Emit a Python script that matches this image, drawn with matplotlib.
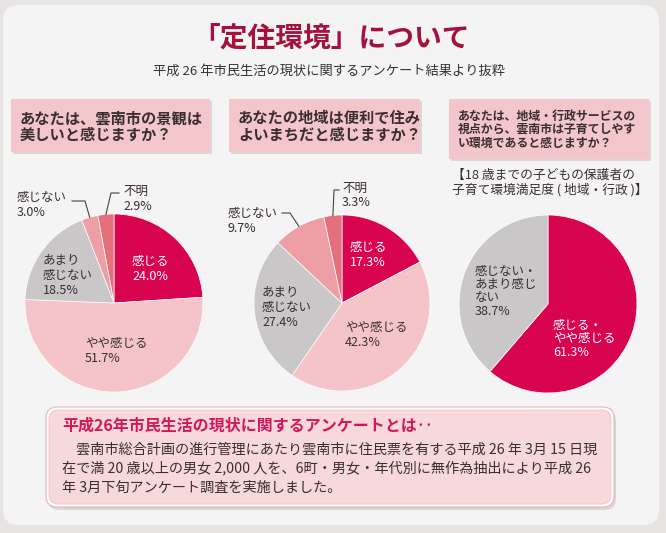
import matplotlib
matplotlib.use('Agg')
import matplotlib.pyplot as plt
from matplotlib.patches import FancyBboxPatch
import numpy as np

plt.rcParams['font.family'] = ['Noto Sans CJK JP', 'DejaVu Sans']

# ---- data read from the leaflet ----
answers = ['感じる', 'やや感じる', 'あまり\n感じない', '感じない', '不明']
scenery = [24.0, 51.7, 18.5, 3.0, 2.9]        # 景観は美しいか
livability = [17.3, 42.3, 27.4, 9.7, 3.3]     # 便利で住みよいか
child_answers = ['感じる・\nやや感じる', '感じない・\nあまり感じ\nない']
childcare = [61.3, 38.7]                      # 子育てしやすいか

questions = [
    'あなたは、雲南市の景観は\n美しいと感じますか？',
    'あなたの地域は便利で住み\nよいまちだと感じますか？',
    'あなたは、地域・行政サービスの\n視点から、雲南市は子育てしやす\nい環境であると感じますか？',
]

five_colors = ['#d9044f', '#f4c4c8', '#c9c7c8', '#ee9fa6', '#e3707c']
two_colors = ['#d9044f', '#c9c7c8']
dark = '#3a2e30'

fig = plt.figure(figsize=(6.66, 5.33), dpi=100, facecolor='#e9e4e4')
ax = fig.add_axes([0, 0, 1, 1])


def box(x, y, w, h, fc, ec='none', lw=0, rs=0.0, z=1):
    p = FancyBboxPatch((x, y), w, h, boxstyle=f'round,pad=0,rounding_size={rs}',
                       fc=fc, ec=ec, lw=lw, zorder=z)
    ax.add_patch(p)


def put_lines(x, y, text, pitch, **kw):
    for i, line in enumerate(text.split('\n')):
        ax.text(x, y + i * pitch, line, va='center', ha='left', **kw)


def draw_pie(cx, cy, r, values, colors):
    wedges, _ = ax.pie(values, colors=colors, center=(cx, cy), radius=r,
                       startangle=-90, counterclock=True, frame=True,
                       wedgeprops=dict(edgecolor='white', linewidth=0.5))
    return wedges


def rim(w):
    t = np.deg2rad((w.theta1 + w.theta2) / 2)
    return w.center[0] + w.r * np.cos(t), w.center[1] + w.r * np.sin(t)


# background panel
box(3, 5, 656, 520, '#f5f4f4', rs=16, z=0)

# title
ax.text(331, 39, '「定住環境」について', ha='center', va='center',
        fontsize=20, fontweight='bold', color='#a5113d')
ax.text(329, 71, '平成 26 年市民生活の現状に関するアンケート結果より抜粋',
        ha='center', va='center', fontsize=9.5, color='#333333')

# question boxes
qboxes = [(11, 99, 199, 53), (229, 99, 191, 53), (449, 99, 200, 60)]
qsizes = [11, 11, 8.6]
qpitch = [17, 17, 13.5]
for (x, y, w, h), q, fs, pitch in zip(qboxes, questions, qsizes, qpitch):
    box(x + 2, y + 2, w, h, '#dcd6d6', z=1)
    box(x, y, w, h, '#f2c6ca', z=2)
    put_lines(x + 9, y + 19 if fs > 10 else y + 17, q, pitch,
              fontsize=fs, fontweight='bold', color=dark, zorder=3)

put_lines(452, 175, '【18 歳までの子どもの保護者の\n子育て環境満足度 ( 地域・行政 )】', 14.5,
          fontsize=9.2, color=dark)

# pie 1 : scenery
w1 = draw_pie(114, 303, 89, scenery, five_colors)
pos1 = [(132, 261), (85, 343), (43, 260), (17, 197), (123, 191)]
for i, (name, v) in enumerate(zip(answers, scenery)):
    x, y = pos1[i]
    put_lines(x, y, f'{name}\n{v:.1f}%', 15 if name.count('\n') else 16,
              fontsize=9, color='white' if i == 0 else dark)
ex, ey = rim(w1[3])
ax.plot([72, 85, ex], [201, 201, ey], color='#444444', lw=0.8)
ex, ey = rim(w1[4])
ax.plot([119, 111, ex], [193, 193, ey], color='#444444', lw=0.8)

# pie 2 : livability
w2 = draw_pie(342, 303, 88, livability, five_colors)
pos2 = [(350, 247), (345, 327), (262, 292), (228, 213), (342, 188)]
for i, (name, v) in enumerate(zip(answers, livability)):
    x, y = pos2[i]
    put_lines(x, y, f'{name}\n{v:.1f}%', 15,
              fontsize=9, color='white' if i == 0 else dark)
ex, ey = rim(w2[3])
ax.plot([282, 290, ex], [213, 213, ey], color='#444444', lw=0.8)
ex, ey = rim(w2[4])
ax.plot([339, 334, ex], [190, 190, ey], color='#444444', lw=0.8)

# pie 3 : childcare
w3 = draw_pie(548, 304, 89, childcare, two_colors)
pos3 = [(553, 325), (475, 271)]
for i, (name, v) in enumerate(zip(child_answers, childcare)):
    x, y = pos3[i]
    put_lines(x, y, f'{name}\n{v:.1f}%', 13.5,
              fontsize=9, color='white' if i == 0 else dark)

# bottom note box
box(48, 410, 568, 100, '#dcd6d6', rs=11, z=1)
box(46, 407, 568, 100, 'white', ec='#eab3bb', lw=0.8, rs=11, z=2)
box(49, 410, 562, 94, '#f7d9dc', ec='#f0c3c9', lw=0.6, rs=9, z=2)
ax.text(62, 426, '平成26年市民生活の現状に関するアンケートとは‥', ha='left', va='center',
        fontsize=11.5, fontweight='bold', color='#d2175b', zorder=3)
note = ('　雲南市総合計画の進行管理にあたり雲南市に住民票を有する平成 26 年 3月 15 日現\n'
        '在で満 20 歳以上の男女 2,000 人を、6町・男女・年代別に無作為抽出により平成 26\n'
        '年 3月下旬アンケート調査を実施しました。')
put_lines(62, 450, note, 19, fontsize=10.2, color=dark, zorder=3)

ax.set_xlim(0, 666)
ax.set_ylim(533, 0)
ax.set_aspect('auto')
ax.axis('off')

fig.savefig('out.png', dpi=100, facecolor=fig.get_facecolor())
